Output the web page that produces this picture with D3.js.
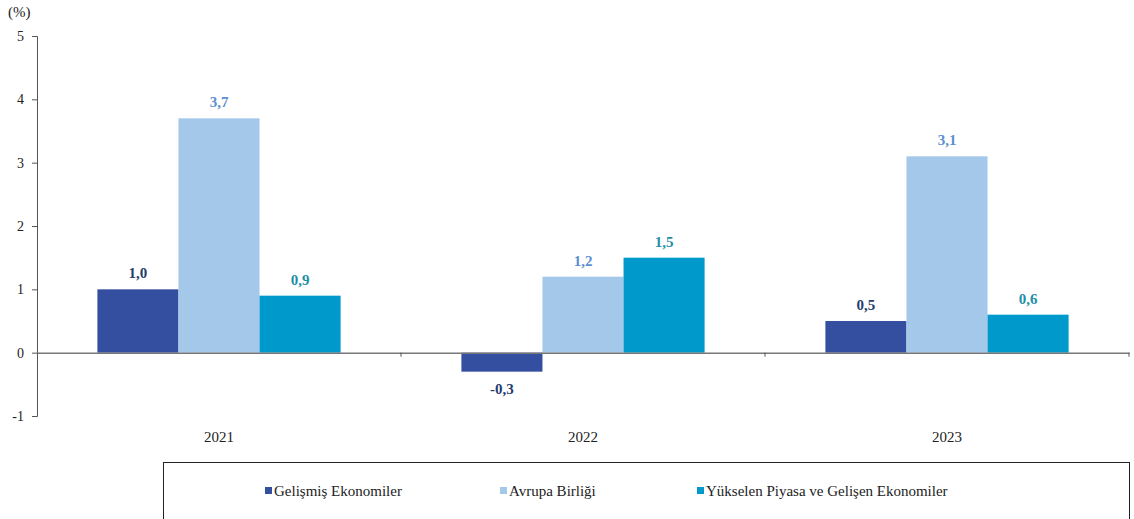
<!DOCTYPE html>
<html>
<head>
<meta charset="utf-8">
<script src="https://cdn.jsdelivr.net/npm/d3@7"></script>
<style>
  body { margin: 0; background: #fff; }
</style>
</head>
<body>
<div class="chart"></div>
<script>
'use strict';

var years = ['2021', '2022', '2023'];
var seriesNames = ['Gelişmiş Ekonomiler', 'Avrupa Birliği', 'Yükselen Piyasa ve Gelişen Ekonomiler'];
var gelismis = [1.0, -0.3, 0.5];
var avrupa = [3.7, 1.2, 3.1];
var yukselen = [0.9, 1.5, 0.6];
var yTicks = [-1, 0, 1, 2, 3, 4, 5];

var serif = "'Liberation Serif', 'Times New Roman', serif",
    barColors = ['#344ea0', '#a4c8ea', '#0099cc'],
    labelColors = ['#253d6e', '#5b8fd0', '#1f8ea8'],
    width = 1134,
    height = 519,
    margin = { top: 36, right: 5, bottom: 103, left: 37 };

var series = [gelismis, avrupa, yukselen].map(function (vals, i) {
  return { name: seriesNames[i], values: vals, idx: i };
});

var tr = d3.formatLocale({ decimal: ',', thousands: '.', grouping: [3], currency: ['', ''], minus: '-' }),
    fmt = tr.format('.1f');

var svg = d3.select('.chart').append('svg').attr('width', width).attr('height', height)
  .style('font-family', serif);

var x = d3.scaleBand().domain(years).range([margin.left, width - margin.right]),
    xInner = d3.scaleBand().domain(d3.range(series.length)).range([0, x.bandwidth()]).paddingOuter(0.745).paddingInner(0),
    y = d3.scaleLinear().domain([-1, 5]).range([height - margin.bottom, margin.top]);

// bars
var groups = svg.append('g').selectAll('g').data(series).enter().append('g');
groups.selectAll('rect').data(function (s) {
  return s.values.map(function (v, j) { return { v: v, year: years[j], idx: s.idx }; });
}).enter().append('rect')
  .attr('x', function (d) { return x(d.year) + xInner(d.idx); })
  .attr('width', xInner.bandwidth())
  .attr('y', function (d) { return y(Math.max(0, d.v)); })
  .attr('height', function (d) { return Math.abs(y(d.v) - y(0)); })
  .attr('fill', function (d) { return barColors[d.idx]; });

// value labels
groups.selectAll('text').data(function (s) {
  return s.values.map(function (v, j) { return { v: v, year: years[j], idx: s.idx }; });
}).enter().append('text')
  .attr('x', function (d) { return x(d.year) + xInner(d.idx) + xInner.bandwidth() / 2; })
  .attr('y', function (d) { return d.v >= 0 ? y(d.v) - 11 : y(d.v) + 22; })
  .attr('text-anchor', 'middle')
  .attr('font-size', 15)
  .attr('font-weight', 'bold')
  .style('font-family', serif)
  .attr('fill', function (d) { return labelColors[d.idx]; })
  .text(function (d) { return fmt(d.v); });

// y axis
var yAxis = svg.append('g').attr('transform', 'translate(' + margin.left + ',0)')
  .call(d3.axisLeft(y).tickValues(yTicks).tickSize(5).tickPadding(8).tickFormat(tr.format('d')));
yAxis.select('.domain').attr('stroke', '#555');
yAxis.selectAll('.tick line').attr('stroke', '#555');
yAxis.selectAll('.tick text').attr('font-size', 14).attr('fill', '#222').style('font-family', serif);

// zero line with category ticks
var xAxis = svg.append('g').attr('transform', 'translate(0,' + y(0) + ')')
  .call(d3.axisBottom(x).tickSize(0).tickFormat(''));
xAxis.select('.domain').attr('stroke', '#777').attr('stroke-width', 1.5);
svg.append('g').selectAll('line').data(years).enter().append('line')
  .attr('x1', function (d) { return x(d) + x.bandwidth(); })
  .attr('x2', function (d) { return x(d) + x.bandwidth(); })
  .attr('y1', y(0)).attr('y2', y(0) + 4)
  .attr('stroke', '#555');

// year labels
svg.append('g').selectAll('text').data(years).enter().append('text')
  .attr('x', function (d) { return x(d) + x.bandwidth() / 2; })
  .attr('y', 442)
  .attr('text-anchor', 'middle')
  .attr('font-size', 15)
  .attr('fill', '#222')
  .style('font-family', serif)
  .text(function (d) { return d; });

svg.append('text').attr('x', 8).attr('y', 17).attr('font-size', 15).attr('fill', '#222')
  .style('font-family', serif).text('(%)');

// legend
svg.append('rect').attr('x', 163.5).attr('y', 462.5).attr('width', 966).attr('height', 60)
  .attr('fill', 'none').attr('stroke', '#222');
var legendX = [265, 500, 697];
var leg = svg.append('g').selectAll('g').data(series).enter().append('g')
  .attr('transform', function (d, i) { return 'translate(' + legendX[i] + ',491)'; });
leg.append('rect').attr('x', 0).attr('y', -4).attr('width', 7).attr('height', 7)
  .attr('fill', function (d) { return barColors[d.idx]; });
leg.append('text').attr('x', 9).attr('y', 5).attr('font-size', 15).attr('fill', '#222')
  .style('font-family', serif)
  .text(function (d) { return d.name; });
</script>
</body>
</html>
